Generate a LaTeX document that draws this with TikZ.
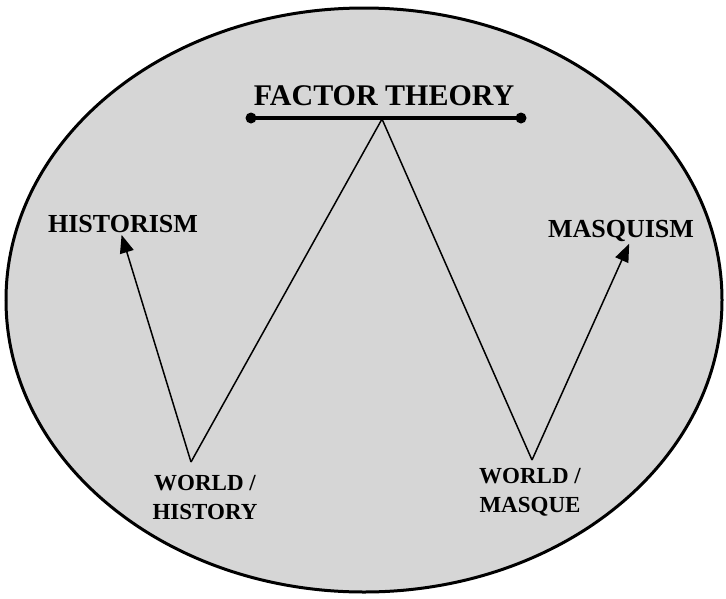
\documentclass[tikz,border=0pt]{standalone}
\usepackage{fontspec}
\setmainfont{Liberation Serif}
\usetikzlibrary{arrows.meta}
\definecolor{discgray}{HTML}{D6D6D6}

\begin{document}
\begin{tikzpicture}[x=1pt, y=-1pt,
    ttl/.style={font=\bfseries\fontsize{30}{34}\selectfont, inner sep=0pt},
    side/.style={font=\bfseries\fontsize{26}{30}\selectfont, inner sep=0pt},
    pole/.style={font=\bfseries\fontsize{23}{29}\selectfont, align=center, inner sep=0pt},
    wline/.style={line width=1.5pt},
    bar/.style={line width=3.6pt},
    arr/.style={line width=1.5pt, -{Triangle[length=18pt, width=14pt]}, shorten >=2pt}]
  \useasboundingbox (0,0) rectangle (726,598);
  \draw[line width=3pt, fill=discgray] (364,300) ellipse [x radius=358, y radius=292];
  % title and its bar
  \node[ttl] (ft) at (384,96) {FACTOR THEORY};
  \coordinate (barL) at (251,118);
  \coordinate (barR) at (521,118);
  \coordinate (apex) at (382,119);
  \draw[bar] (barL) -- (barR);
  \foreach \p in {barL, barR} { \fill (\p) circle [radius=5.5]; }
  % the two poles
  \node[side] (his) at (123,224) {HISTORISM};
  \node[side] (mas) at (621,231) {MASQUISM};
  \coordinate (wh) at (191,462);
  \coordinate (wm) at (532,460);
  \node[pole] (whl) at (205,497) {WORLD /\\HISTORY};
  \node[pole] (wml) at (530,492) {WORLD /\\MASQUE};
  \draw[wline] (wh) -- (apex) -- (wm);
  \draw[arr] (wh) -- ([xshift=-2pt]his.south);
  \draw[arr] (wm) -- ([xshift=9pt]mas.south);
\end{tikzpicture}
\end{document}
